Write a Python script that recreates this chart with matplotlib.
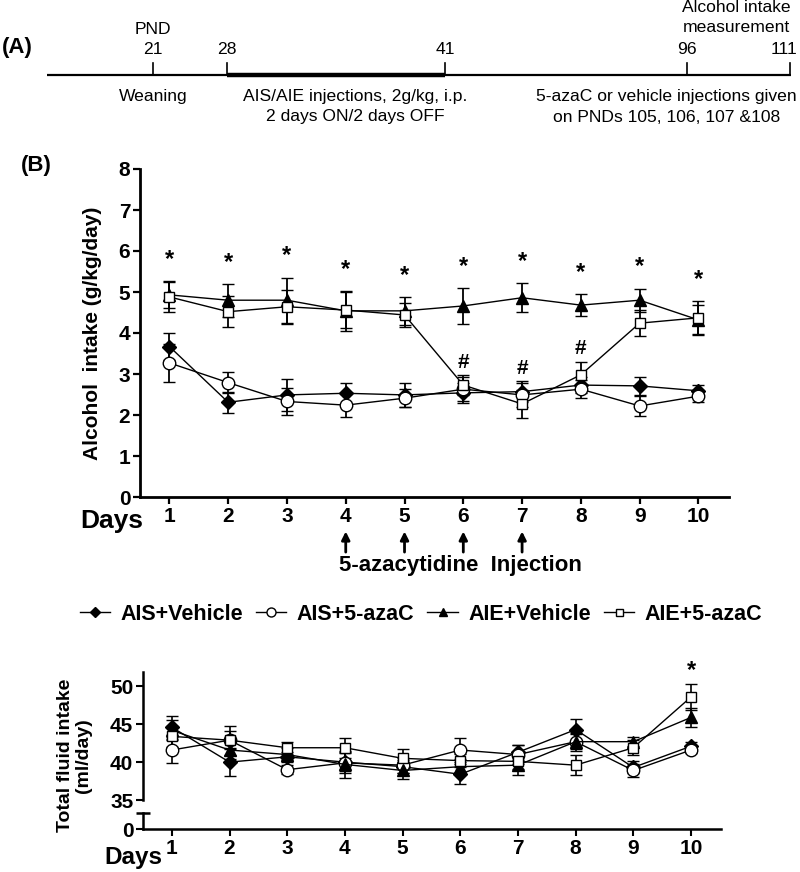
import matplotlib
matplotlib.use("Agg")
import matplotlib.pyplot as plt
from matplotlib.lines import Line2D
import numpy as np

plt.rcParams['font.family'] = ['Liberation Sans', 'DejaVu Sans']

# ---------------- data ----------------
days = [1, 2, 3, 4, 5, 6, 7, 8, 9, 10]
groups = ["AIS+Vehicle", "AIS+5-azaC", "AIE+Vehicle", "AIE+5-azaC"]

# Panel B: alcohol intake (g/kg/day)
alc_ais_veh = [3.67, 2.31, 2.49, 2.53, 2.49, 2.54, 2.57, 2.73, 2.71, 2.59]
alc_ais_veh_err = [0.33, 0.25, 0.40, 0.25, 0.30, 0.25, 0.25, 0.20, 0.22, 0.15]
alc_ais_aza = [3.27, 2.79, 2.33, 2.24, 2.41, 2.63, 2.49, 2.63, 2.22, 2.46]
alc_ais_aza_err = [0.46, 0.26, 0.33, 0.28, 0.22, 0.30, 0.30, 0.22, 0.25, 0.14]
alc_aie_veh = [4.93, 4.80, 4.80, 4.54, 4.54, 4.66, 4.86, 4.68, 4.80, 4.32]
alc_aie_veh_err = [0.33, 0.40, 0.55, 0.48, 0.34, 0.44, 0.36, 0.27, 0.28, 0.37]
alc_aie_aza = [4.88, 4.52, 4.64, 4.56, 4.44, 2.73, 2.27, 2.98, 4.24, 4.37]
alc_aie_aza_err = [0.36, 0.38, 0.42, 0.45, 0.30, 0.25, 0.34, 0.32, 0.31, 0.40]
star_days = [1, 2, 3, 4, 5, 6, 7, 8, 9, 10]
hash_days = [6, 7, 8]
injection_days = [4, 5, 6, 7]

# Bottom panel: total fluid intake (ml/day)
fl_ais_veh = [44.6, 40.0, 40.7, 40.0, 39.4, 38.4, 41.3, 44.3, 39.3, 42.1]
fl_ais_veh_err = [1.5, 1.8, 0.7, 1.2, 0.9, 1.3, 1.0, 1.4, 0.8, 0.5]
fl_ais_aza = [41.6, 42.9, 39.0, 39.9, 39.6, 41.6, 41.0, 42.7, 38.9, 41.6]
fl_ais_aza_err = [1.7, 1.2, 0.6, 1.4, 1.0, 1.6, 1.2, 1.0, 0.8, 0.4]
fl_aie_veh = [44.2, 41.6, 41.0, 39.7, 38.9, 39.4, 39.6, 42.7, 42.7, 45.9]
fl_aie_veh_err = [1.3, 1.2, 0.8, 1.8, 1.1, 1.0, 1.3, 1.2, 0.6, 1.3]
fl_aie_aza = [43.4, 42.9, 41.9, 41.9, 40.5, 40.2, 40.1, 39.6, 41.9, 48.6]
fl_aie_aza_err = [1.4, 1.9, 0.8, 1.3, 1.2, 0.9, 1.0, 1.3, 1.0, 1.7]
fl_star_days = [10]

# Panel A timeline
pnd_labels = ["21", "28", "41", "96", "111"]

# ---------------- layout ----------------
W, H = 800, 872
fig = plt.figure(figsize=(8, 8.72), dpi=100)
fig.patch.set_facecolor('white')

def fx(px):
    return px / W

def fy(py):
    return 1 - py / H

styles = [
    dict(marker='D', mfc='black', ms=7.5),
    dict(marker='o', mfc='white', ms=9),
    dict(marker='^', mfc='black', ms=8),
    dict(marker='s', mfc='white', ms=7),
]

TL = 12.6  # timeline font size

# ---------- Panel A (timeline) ----------
ax0 = fig.add_axes([0, 0, 1, 1], zorder=-1)
ax0.set_xlim(0, W)
ax0.set_ylim(H, 0)
ax0.axis('off')
pnd_px = [153, 227, 445, 687, 790]
pnd_label_px = [153, 227, 445, 687, 784]
ax0.plot([47, 791], [75, 75], color='black', lw=1.6, solid_capstyle='butt')
ax0.plot([pnd_px[1], pnd_px[2]], [75, 75], color='black', lw=3.2, solid_capstyle='butt')
for p, lp, lab in zip(pnd_px, pnd_label_px, pnd_labels):
    ax0.plot([p, p], [63, 75], color='black', lw=1.2)
    ax0.text(lp, 49, lab, ha='center', va='center', fontsize=TL)
ax0.text(153, 29, "PND", ha='center', va='center', fontsize=TL)
ax0.text(736, 8, "Alcohol intake", ha='center', va='center', fontsize=TL)
ax0.text(736, 28, "measurement", ha='center', va='center', fontsize=TL)
ax0.text(2, 47, "(A)", ha='left', va='center', fontsize=16, fontweight='bold')
ax0.text(153, 96, "Weaning", ha='center', va='center', fontsize=TL)
ax0.text(355, 96, "AIS/AIE injections, 2g/kg, i.p.", ha='center', va='center', fontsize=TL)
ax0.text(355, 117, "2 days ON/2 days OFF", ha='center', va='center', fontsize=TL)
ax0.text(666, 96, "5-azaC or vehicle injections given", ha='center', va='center', fontsize=TL)
ax0.text(667, 117, "on PNDs 105, 106, 107 &108", ha='center', va='center', fontsize=TL)
ax0.text(21, 165, "(B)", ha='left', va='center', fontsize=16, fontweight='bold')

# ---------- Panel B (alcohol intake) ----------
ax = fig.add_axes([fx(140), fy(497), fx(729) - fx(140), fy(169) - fy(497)])
alc = [(alc_ais_veh, alc_ais_veh_err), (alc_ais_aza, alc_ais_aza_err),
       (alc_aie_veh, alc_aie_veh_err), (alc_aie_aza, alc_aie_aza_err)]
for (m, e), st, g in zip(alc, styles, groups):
    ax.errorbar(days, m, yerr=e, color='black', lw=1.0, elinewidth=1.3,
                capsize=4.5, capthick=1.3, mec='black', mew=1.0, label=g,
                zorder=3, **st)
ax.set_xlim(0.5, 10.52)
ax.set_ylim(0, 8)
ax.set_yticks(range(0, 9))
ax.set_xticks(days)
for s in ['top', 'right']:
    ax.spines[s].set_visible(False)
for s in ['left', 'bottom']:
    ax.spines[s].set_linewidth(2.0)
ax.tick_params(axis='both', width=1.6, length=5, labelsize=15, pad=2)
for lab in ax.get_xticklabels() + ax.get_yticklabels():
    lab.set_fontweight('bold')
ax.set_ylabel("Alcohol  intake (g/kg/day)", fontsize=15, fontweight='bold')
ax.yaxis.set_label_coords(-0.064, 0.5)

# significance markers
alc_tops = np.max([np.array(m) + np.array(e) for m, e in alc], axis=0)
for d in star_days:
    ax.text(d, alc_tops[d - 1] + 0.25, "*", ha='center', va='bottom',
            fontsize=17, fontweight='bold')
aza_top = np.array(alc_aie_aza) + np.array(alc_aie_aza_err)
low_tops = np.max([np.array(m) + np.array(e) for m, e in alc[:2]] + [aza_top], axis=0)
for d in hash_days:
    ax.text(d, low_tops[d - 1] + 0.08, "#", ha='center', va='bottom',
            fontsize=15, fontweight='bold')

# injection arrows
for d in injection_days:
    ax.annotate("", xy=(d, -0.105), xytext=(d, -0.168),
                xycoords=('data', 'axes fraction'), textcoords=('data', 'axes fraction'),
                arrowprops=dict(arrowstyle='-|>', color='black', lw=2.0,
                                mutation_scale=12, shrinkA=0, shrinkB=0),
                annotation_clip=False)
fig.text(fx(339), fy(565), "5-azacytidine  Injection", ha='left', va='center',
         fontsize=16, fontweight='bold')
fig.text(fx(80), fy(521), "Days", ha='left', va='center', fontsize=19, fontweight='bold')

# legend
handles = [Line2D([0], [0], color='black', lw=1.0, mec='black', marker=st['marker'],
                  mfc=st['mfc'], ms=st['ms'] * 0.72) for st in styles]
fig.legend(handles, groups, loc='center', bbox_to_anchor=(fx(421), fy(614)), ncol=4,
           frameon=False, handlelength=1.4, handletextpad=0.5, columnspacing=0.6,
           prop=dict(size=15.5, weight='bold'))

# ---------- Bottom panel (total fluid intake) ----------
axb = fig.add_axes([fx(143), fy(800), fx(721) - fx(143), fy(672) - fy(800)])
axc = fig.add_axes([fx(143), fy(829), fx(721) - fx(143), fy(813) - fy(829)])
fl = [(fl_ais_veh, fl_ais_veh_err), (fl_ais_aza, fl_ais_aza_err),
      (fl_aie_veh, fl_aie_veh_err), (fl_aie_aza, fl_aie_aza_err)]
for (m, e), st in zip(fl, styles):
    axb.errorbar(days, m, yerr=e, color='black', lw=1.0, elinewidth=1.2,
                 capsize=4.5, capthick=1.2, mec='black', mew=1.0, zorder=3,
                 clip_on=False, **st)
for a in (axb, axc):
    a.set_xlim(0.5, 10.52)
    a.patch.set_alpha(0)
    for s in ['top', 'right']:
        a.spines[s].set_visible(False)
    a.spines['left'].set_linewidth(1.8)
    a.tick_params(axis='both', width=1.5, length=5, labelsize=15, pad=2)
axb.set_ylim(35, 51.9)
axb.set_yticks([35, 40, 45, 50])
axb.spines['bottom'].set_visible(False)
axb.set_xticks([])
axc.set_ylim(0, 1)
axc.set_yticks([0])
axc.set_xticks(days)
axc.spines['bottom'].set_linewidth(1.8)
axc.plot([0], [1], marker='_', ms=10, mew=1.8, color='black',
         transform=axc.transAxes, clip_on=False)
for lab in axb.get_yticklabels() + axc.get_yticklabels() + axc.get_xticklabels():
    lab.set_fontweight('bold')
axb.set_ylabel("Total fluid intake\n(ml/day)", fontsize=14, fontweight='bold',
               linespacing=1.1)
axb.yaxis.set_label_coords(-0.088, 0.35)
fl_tops = np.max([np.array(m) + np.array(e) for m, e in fl], axis=0)
for d in fl_star_days:
    axb.text(d, fl_tops[d - 1] + 0.3, "*", ha='center', va='bottom',
             fontsize=17, fontweight='bold', clip_on=False)
fig.text(fx(104), fy(857), "Days", ha='left', va='center', fontsize=17.5, fontweight='bold')

fig.savefig("out.png", dpi=100, facecolor='white')
